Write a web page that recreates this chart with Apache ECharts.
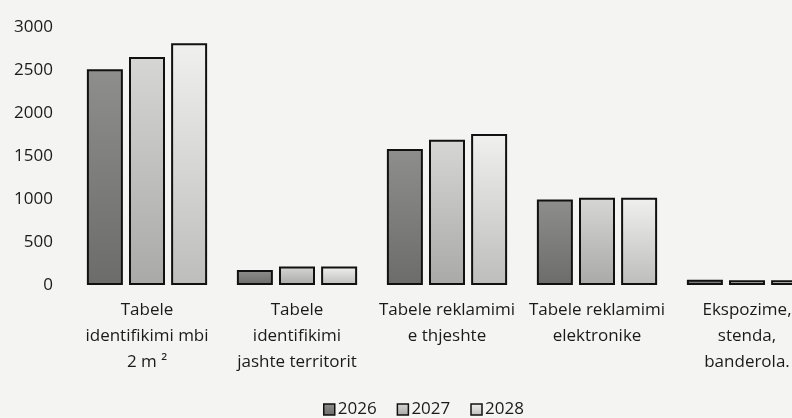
<!DOCTYPE html>
<html>
<head>
<meta charset="utf-8">
<script src="https://cdn.jsdelivr.net/npm/echarts@6/dist/echarts.min.js"></script>
<style>
  html, body { margin: 0; padding: 0; background: #f4f4f2; overflow: hidden; }
  #chart { width: 830px; height: 418px; }
</style>
</head>
<body>
<div id="chart"></div>
<script>
  const categories = [
    'Tabele\nidentifikimi mbi\n2 m ²',
    'Tabele\nidentifikimi\njashte territorit',
    'Tabele reklamimi\ne thjeshte',
    'Tabele reklamimi\nelektronike',
    'Ekspozime,\nstenda,\nbanderola.'
  ]
  const years = ['2026', '2027', '2028']
  const values2026 = [2510, 175, 1580, 995, 60]
  const values2027 = [2650, 215, 1690, 1015, 55]
  const values2028 = [2810, 215, 1755, 1015, 55]

  const textColor = '#1a1a1a'
  const grad = (top, bottom) => new echarts.graphic.LinearGradient(0, 0, 0, 1, [
    { offset: 0, color: top },
    { offset: 1, color: bottom }
  ])
  const fills = [grad('#8e8e8c', '#6c6c6a'), grad('#d6d6d4', '#a9a9a7'), grad('#f0f0ee', '#bdbdbb')]

  const chart = echarts.init(document.getElementById('chart'))
  const makeSeries = (name, data, i) => ({
    name: name,
    type: 'bar',
    data: data,
    barWidth: 36,
    barGap: '17%',
    itemStyle: { color: fills[i], borderColor: '#111', borderWidth: 2 }
  })

  chart.setOption({
    backgroundColor: '#f4f4f2',
    textStyle: { fontFamily: 'Open Sans', color: textColor },
    grid: { left: 72, right: 8, top: 27, bottom: 133 },
    legend: {
      left: 318,
      top: 396,
      icon: 'rect',
      itemWidth: 11,
      itemHeight: 11,
      itemGap: 20,
      textStyle: { color: textColor, fontSize: 17, fontFamily: 'Open Sans', padding: [0, 0, 0, -2] },
      data: years.map(y => ({ name: y, itemStyle: { borderColor: '#111', borderWidth: 1.5 } }))
    },
    xAxis: {
      type: 'category',
      data: categories,
      axisLine: { show: false },
      axisTick: { show: false },
      axisLabel: { interval: 0, margin: 12, fontSize: 17, lineHeight: 26, color: textColor, fontFamily: 'Open Sans' }
    },
    yAxis: {
      type: 'value',
      min: 0,
      max: 3000,
      interval: 500,
      axisLine: { show: false },
      axisTick: { show: false },
      splitLine: { show: false },
      axisLabel: { fontSize: 17, color: textColor, margin: 19, fontFamily: 'Open Sans', formatter: v => String(v) }
    },
    series: [
      makeSeries(years[0], values2026, 0),
      makeSeries(years[1], values2027, 1),
      makeSeries(years[2], values2028, 2)
    ]
  })
</script>
</body>
</html>
